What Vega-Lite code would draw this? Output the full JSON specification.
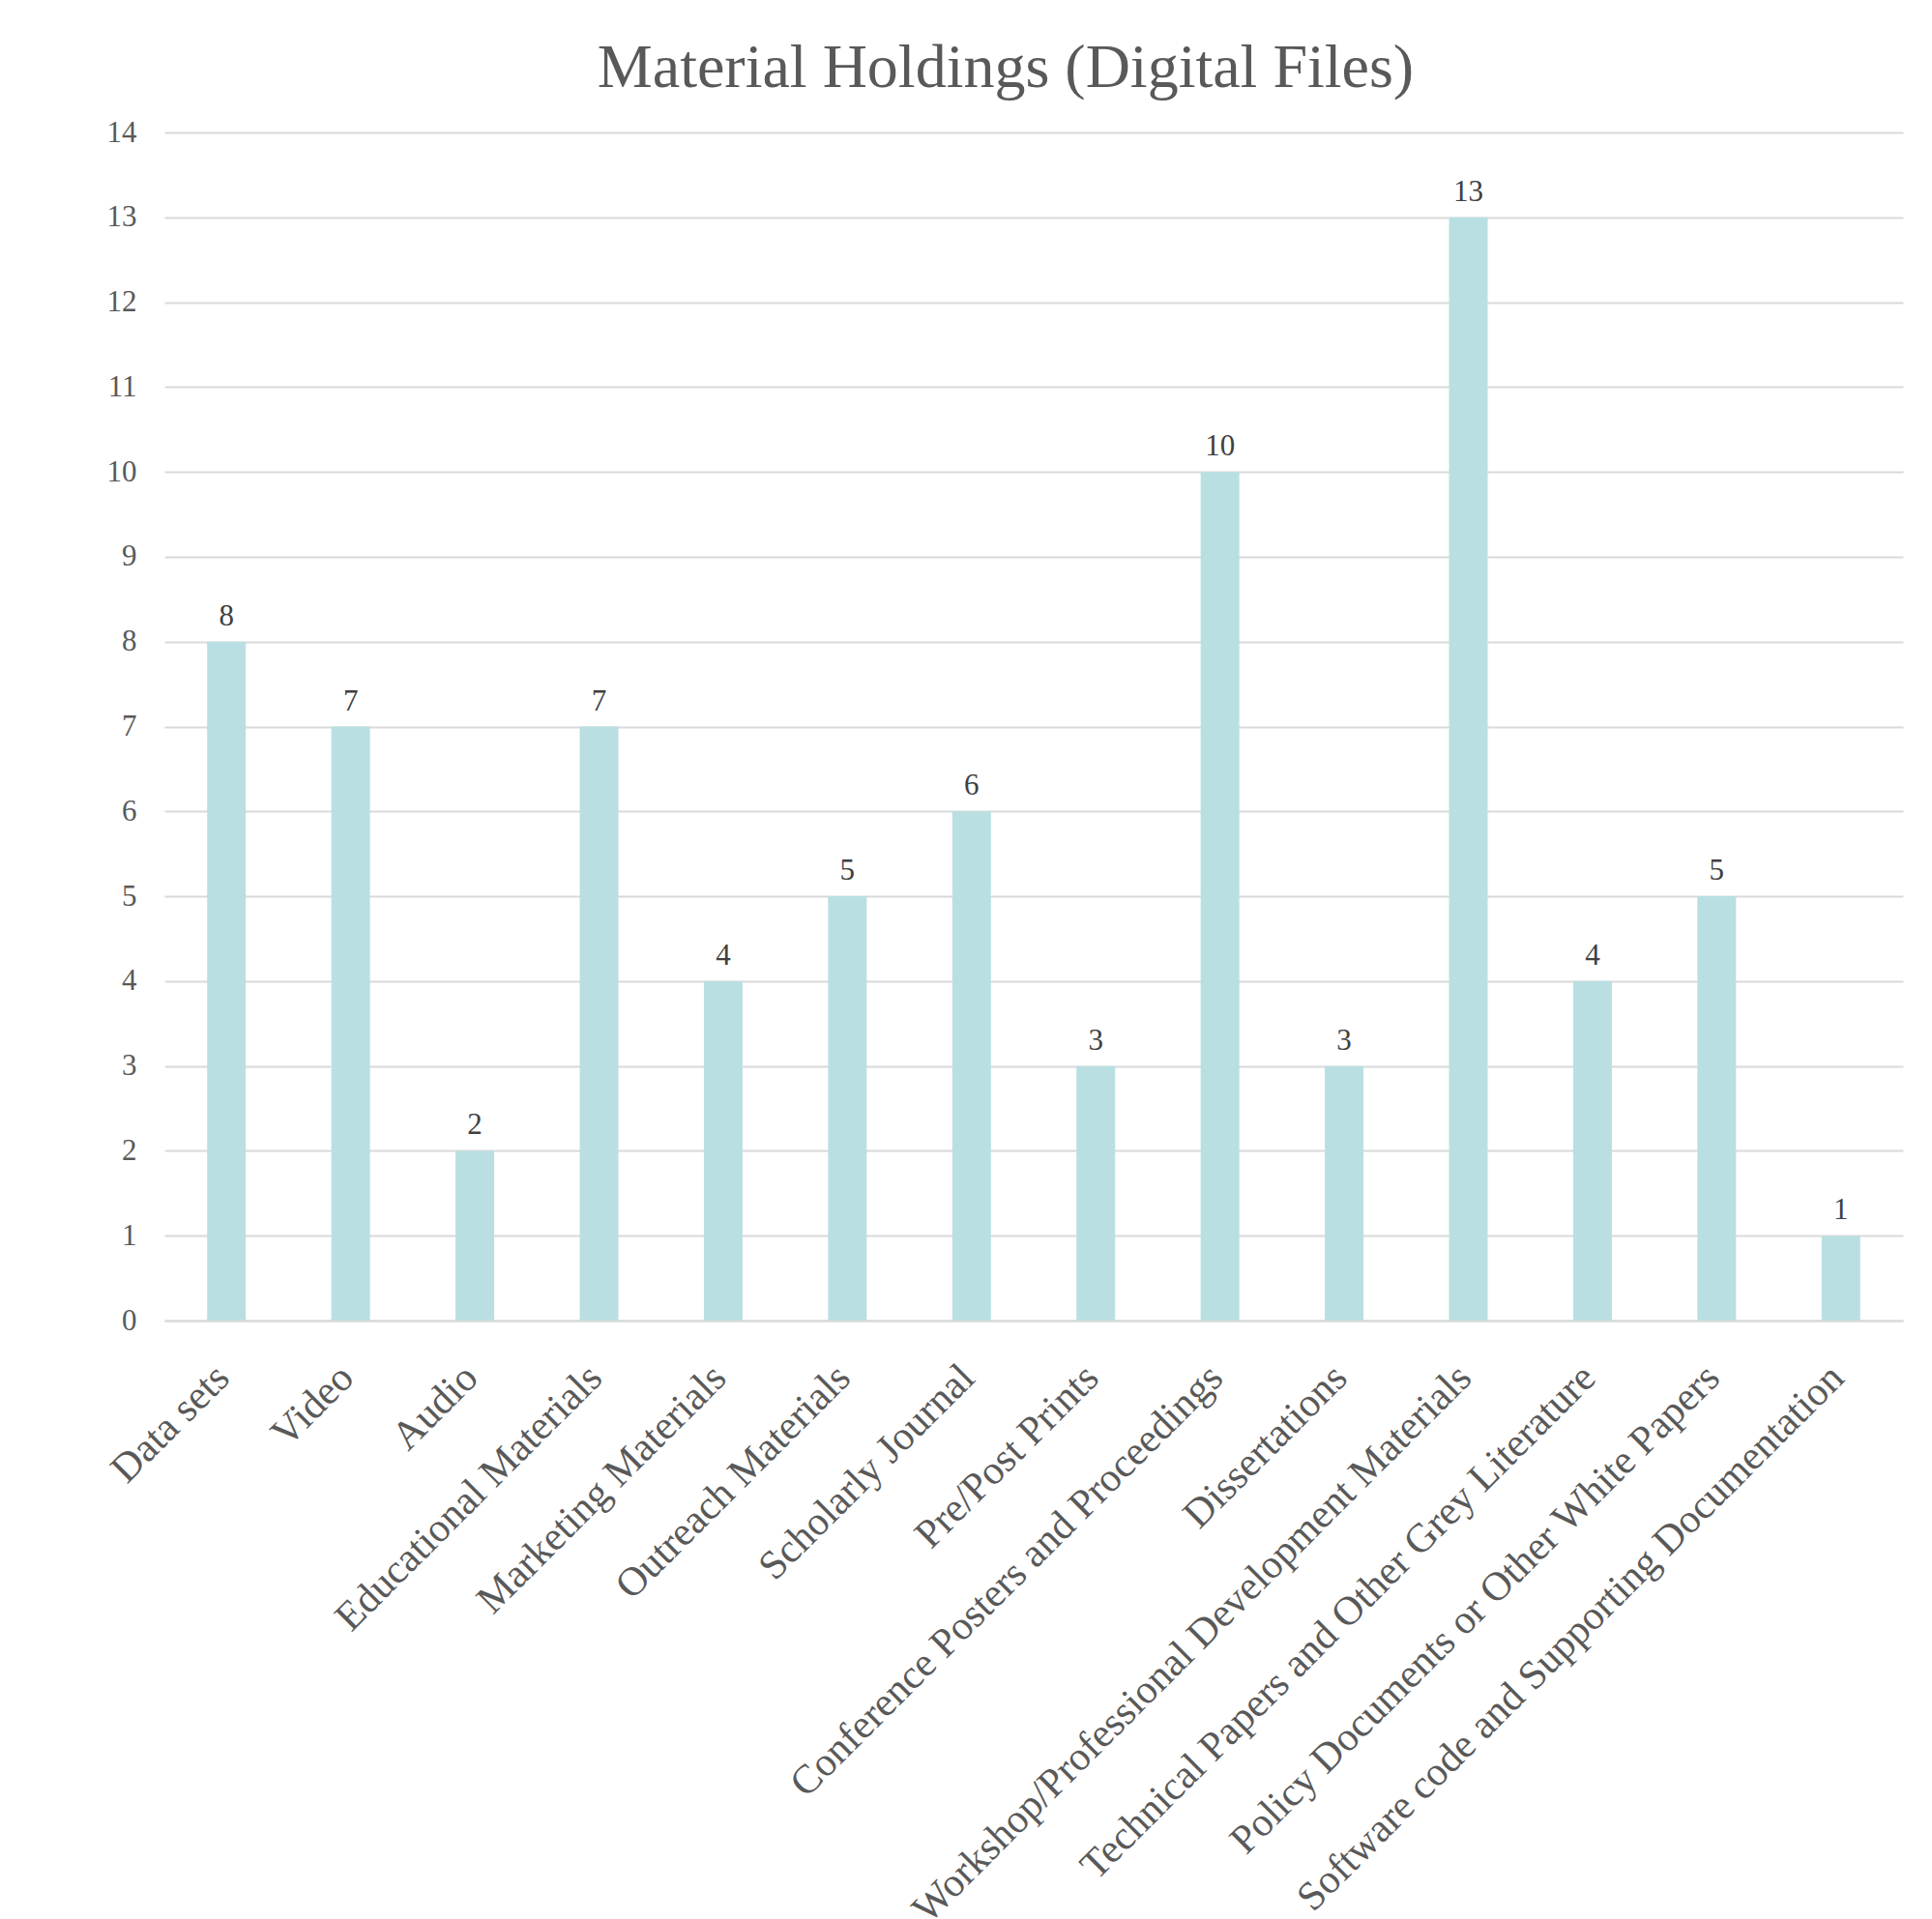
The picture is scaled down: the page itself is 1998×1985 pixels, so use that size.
{
  "$schema": "https://vega.github.io/schema/vega-lite/v6.json",
  "width": 1798,
  "height": 1229,
  "autosize": {"type": "none"},
  "padding": {"left": 170, "top": 137, "right": 30, "bottom": 619},
  "background": "white",
  "title": {
    "text": "Material Holdings (Digital Files)",
    "font": "Liberation Serif",
    "fontSize": 64,
    "fontWeight": "normal",
    "color": "#595959",
    "anchor": "middle",
    "dx": -29,
    "offset": 18
  },
  "data": {
    "values": [
      {"category": "Data sets", "count": 8},
      {"category": "Video", "count": 7},
      {"category": "Audio", "count": 2},
      {"category": "Educational Materials", "count": 7},
      {"category": "Marketing Materials", "count": 4},
      {"category": "Outreach Materials", "count": 5},
      {"category": "Scholarly Journal", "count": 6},
      {"category": "Pre/Post Prints", "count": 3},
      {"category": "Conference Posters and Proceedings", "count": 10},
      {"category": "Dissertations", "count": 3},
      {"category": "Workshop/Professional Development Materials", "count": 13},
      {"category": "Technical Papers and Other Grey Literature", "count": 4},
      {"category": "Policy Documents or Other White Papers", "count": 5},
      {"category": "Software code and Supporting Documentation", "count": 1}
    ]
  },
  "encoding": {
    "x": {
      "field": "category",
      "type": "nominal",
      "sort": null,
      "scale": {"paddingInner": 0, "paddingOuter": 0},
      "axis": {
        "title": null,
        "labelAngle": -45,
        "labelAlign": "right",
        "labelBaseline": "middle",
        "labelFont": "Liberation Serif",
        "labelFontSize": 42,
        "labelColor": "#595959",
        "labelPadding": 52,
        "labelOffset": -4,
        "labelLimit": 2000,
        "ticks": false,
        "tickSize": 0,
        "domain": true,
        "domainColor": "#d9d9d9",
        "domainWidth": 2,
        "grid": false
      }
    },
    "y": {
      "field": "count",
      "type": "quantitative",
      "scale": {"domain": [0, 14], "nice": false},
      "axis": {
        "title": null,
        "values": [0,1,2,3,4,5,6,7,8,9,10,11,12,13,14],
        "labelFont": "Liberation Serif",
        "labelFontSize": 31,
        "labelColor": "#595959",
        "labelPadding": 29,
        "ticks": false,
        "tickSize": 0,
        "domain": false,
        "grid": true,
        "gridColor": "#d9d9d9",
        "gridWidth": 2
      }
    }
  },
  "layer": [
    {
      "mark": {"type": "bar", "width": 40, "color": "#badfe2"}
    },
    {
      "mark": {
        "type": "text",
        "font": "Liberation Serif",
        "fontSize": 31,
        "color": "#404040",
        "baseline": "alphabetic",
        "dy": -17
      },
      "encoding": {"text": {"field": "count", "type": "quantitative"}}
    }
  ],
  "config": {"view": {"stroke": null}}
}
